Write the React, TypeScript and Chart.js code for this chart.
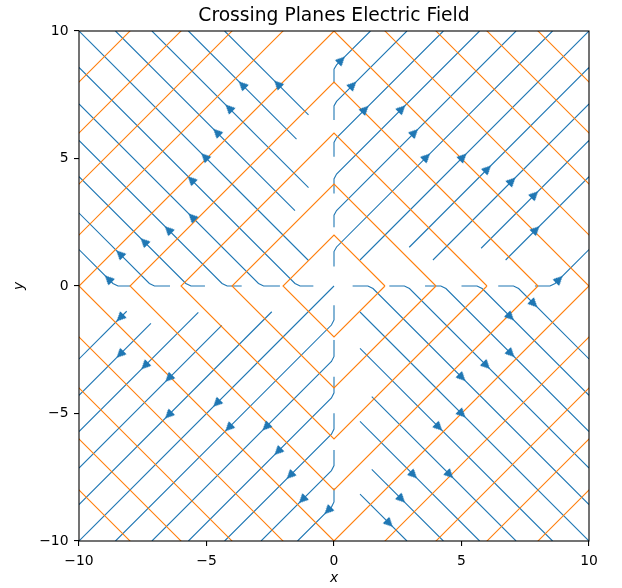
import React, { useEffect, useRef } from 'react';
import { Chart, registerables } from 'chart.js';

Chart.register(...registerables);

type P = [number, number];

const BLUE = '#1f77b4';
const ORANGE = '#ff7f0e';

// equipotential contour levels of the crossing planes (|x| + |y| = level)
const contourLevels = [2, 4, 6, 8, 10, 12, 14, 16, 18];

const tickValues = [-10, -5, 0, 5, 10];

// streamlines, quadrant I (up-right)
const streamQ1: P[][] = [
  [[0, 7.95], [0, 8.5], [0.1, 8.67], [1.43, 10]],
  [[0, 6.51], [0, 7.06], [0.1, 7.24], [2.86, 10]],
  [[0, 5.07], [0, 5.63], [0.1, 5.81], [4.29, 10]],
  [[0, 3.63], [0, 4.2], [0.1, 4.39], [5.71, 10]],
  [[0, 2.3], [0, 2.78], [0.1, 2.96], [7.14, 10]],
  [[0, 0.76], [0, 1.35], [0.1, 1.53], [8.57, 10]],
  [[1.02, 1.02], [10, 10]],
  [[2.95, 1.52], [10, 8.57]],
  [[3.88, 1.02], [10, 7.14]],
  [[5.77, 1.48], [10, 5.71]],
  [[6.73, 1.02], [10, 4.29]],
  [[7.88, 0], [8.47, 0], [8.67, 0.1], [10, 1.43]],
];

// streamlines, quadrant II (up-left)
const streamQ2: P[][] = [
  [[-1.0, 6.71], [-4.29, 10]],
  [[-1.47, 5.76], [-5.71, 10]],
  [[-1.0, 3.86], [-7.14, 10]],
  [[-1.53, 2.96], [-8.57, 10]],
  [[-1.0, 1.0], [-10, 10]],
  [[-0.81, 0], [-1.33, 0], [-1.53, 0.1], [-10, 8.57]],
  [[-2.12, 0], [-2.76, 0], [-2.96, 0.1], [-10, 7.14]],
  [[-3.62, 0], [-4.19, 0], [-4.39, 0.1], [-10, 5.71]],
  [[-5.06, 0], [-5.61, 0], [-5.81, 0.1], [-10, 4.29]],
  [[-6.43, 0], [-7.04, 0], [-7.24, 0.1], [-10, 2.86]],
  [[-8.0, 0], [-8.47, 0], [-8.67, 0.1], [-10, 1.43]],
];

// streamlines, quadrant III (down-left)
const streamQ3: P[][] = [
  [[0, -0.75], [0, -1.33], [-0.1, -1.53], [-8.57, -10]],
  [[0, -2.12], [0, -2.76], [-0.1, -2.96], [-7.14, -10]],
  [[0, -3.56], [0, -4.19], [-0.1, -4.39], [-5.71, -10]],
  [[0, -4.99], [0, -5.61], [-0.1, -5.81], [-4.29, -10]],
  [[0, -6.43], [0, -7.04], [-0.1, -7.24], [-2.86, -10]],
  [[0, -7.93], [0, -8.47], [-0.1, -8.67], [-1.43, -10]],
  [[0, 0], [-10, -10]],
  [[-2.44, -1.01], [-10, -8.57]],
  [[-4.4, -1.54], [-10, -7.14]],
  [[-5.32, -1.03], [-10, -5.71]],
  [[-7.18, -1.47], [-10, -4.29]],
  [[-8.13, -0.99], [-10, -2.86]],
];

// streamlines, quadrant IV (down-right)
const streamQ4: P[][] = [
  [[0.73, 0], [1.33, 0], [1.53, -0.1], [10, -8.57]],
  [[2.17, 0], [2.76, 0], [2.96, -0.1], [10, -7.14]],
  [[3.57, 0], [4.19, 0], [4.39, -0.1], [10, -5.71]],
  [[5.0, 0], [5.61, 0], [5.81, -0.1], [10, -4.29]],
  [[6.44, 0], [7.04, 0], [7.24, -0.1], [10, -2.86]],
  [[1.02, -1.02], [10, -10]],
  [[1.02, -2.45], [8.57, -10]],
  [[1.48, -4.34], [7.14, -10]],
  [[1.02, -5.31], [5.71, -10]],
  [[1.48, -7.19], [4.29, -10]],
  [[1.02, -8.16], [2.86, -10]],
];

// arrow heads
const arrowsQ1: P[] = [
  [0.27, 8.84], [0.72, 7.86], [1.2, 6.91], [2.64, 6.93], [3.14, 6.0], [3.61, 5.04],
  [5.04, 5.04], [6.0, 4.57], [6.96, 4.1], [7.85, 3.56], [7.9, 2.19], [8.81, 0.24],
];
const arrowsQ2: P[] = [
  [-2.19, 7.9], [-3.58, 7.87], [-4.1, 6.96], [-4.58, 6.01], [-5.05, 5.05], [-5.58, 4.15],
  [-5.55, 2.69], [-6.48, 2.19], [-7.43, 1.72], [-8.38, 1.24], [-8.83, 0.26],
];
const arrowsQ3: P[] = [
  [-8.37, -1.23], [-8.37, -2.66], [-7.4, -3.11], [-6.46, -3.6], [-6.47, -5.04], [-4.58, -4.58],
  [-4.11, -5.54], [-2.65, -5.51], [-2.18, -6.47], [-1.7, -7.41], [-1.22, -8.36], [-0.22, -8.79],
];
const arrowsQ4: P[] = [
  [7.82, -0.68], [6.9, -1.19], [6.92, -2.63], [5.96, -3.1], [5.0, -3.57], [5.0, -5.0],
  [4.09, -5.52], [4.52, -7.38], [3.1, -7.39], [2.63, -8.34], [2.15, -9.29],
];

const toXY = (pts: P[]) => pts.map(([x, y]) => ({ x, y }));

function makeArrowHead(): HTMLCanvasElement {
  const c = document.createElement('canvas');
  c.width = 12;
  c.height = 12;
  const g = c.getContext('2d')!;
  g.fillStyle = BLUE;
  g.strokeStyle = BLUE;
  g.lineWidth = 1;
  g.beginPath();
  g.moveTo(6, 1.5);
  g.lineTo(10, 9.5);
  g.lineTo(2, 9.5);
  g.closePath();
  g.fill();
  g.stroke();
  return c;
}

const framePlugin = {
  id: 'frame',
  afterDatasetsDraw(chart: any) {
    const { ctx, chartArea } = chart;
    const { left, top, right, bottom } = chartArea;
    ctx.save();
    ctx.strokeStyle = '#000';
    ctx.lineWidth = 1.1;
    ctx.strokeRect(left, top, right - left, bottom - top);
    ctx.restore();
  },
};

export default function App() {
  const ref = useRef<HTMLCanvasElement | null>(null);

  useEffect(() => {
    if (!ref.current) return;
    const head = makeArrowHead();
    const lineDs = (pts: P[], color: string, order: number) => ({
      data: toXY(pts),
      showLine: true,
      borderColor: color,
      backgroundColor: color,
      borderWidth: 1.1,
      pointRadius: 0,
      pointHoverRadius: 0,
      tension: 0,
      order,
    });
    const arrowDs = (pts: P[], rot: number) => ({
      data: toXY(pts),
      showLine: false,
      pointStyle: head,
      pointRotation: rot,
      pointRadius: 6,
      pointHoverRadius: 6,
      borderColor: BLUE,
      backgroundColor: BLUE,
      order: -1,
    });
    const datasets: any[] = [
      ...contourLevels.map((c) => lineDs([[c, 0], [0, c], [-c, 0], [0, -c], [c, 0]], ORANGE, 0)),
      ...[...streamQ1, ...streamQ2, ...streamQ3, ...streamQ4].map((l) => lineDs(l, BLUE, 1)),
      arrowDs(arrowsQ1, 45),
      arrowDs(arrowsQ2, -45),
      arrowDs(arrowsQ3, -135),
      arrowDs(arrowsQ4, 135),
    ];
    const fmt = (v: number) => (v < 0 ? '\u2212' + Math.abs(v) : String(v));
    const tickFont = { family: 'DejaVu Sans', size: 13.9 };
    const chart = new Chart(ref.current, {
      type: 'scatter',
      data: { datasets },
      plugins: [framePlugin],
      options: {
        animation: false,
        responsive: false,
        devicePixelRatio: 1,
        events: [],
        layout: { padding: { left: 0, right: 33, top: 0, bottom: 0 } },
        plugins: {
          legend: { display: false },
          tooltip: { enabled: false },
          title: {
            display: true,
            text: 'Crossing Planes Electric Field',
            fullSize: false,
            color: '#000',
            font: { family: 'DejaVu Sans', size: 18.7, weight: 'normal', lineHeight: '22px' },
            padding: { top: 5, bottom: 4 },
          },
        },
        scales: {
          x: {
            type: 'linear',
            position: 'bottom',
            min: -10,
            max: 10,
            afterFit: (s: any) => { s.height = 47; },
            afterBuildTicks: (s: any) => { s.ticks = tickValues.map((v) => ({ value: v })); },
            ticks: { color: '#000', font: tickFont, padding: 7, maxRotation: 0, callback: (v: any) => fmt(Number(v)) },
            grid: { drawOnChartArea: false, drawTicks: true, tickLength: 5, color: '#000', lineWidth: 1.1 },
            border: { display: false },
            title: { display: true, text: 'x', color: '#000', font: { family: 'DejaVu Sans', size: 13.9, style: 'italic' }, padding: { top: 0, bottom: 1 } },
          },
          y: {
            type: 'linear',
            position: 'left',
            min: -10,
            max: 10,
            afterFit: (s: any) => { s.width = 79; },
            afterBuildTicks: (s: any) => { s.ticks = tickValues.map((v) => ({ value: v })); },
            ticks: { color: '#000', font: tickFont, padding: 5.5, callback: (v: any) => fmt(Number(v)) },
            grid: { drawOnChartArea: false, drawTicks: true, tickLength: 5, color: '#000', lineWidth: 1.1 },
            border: { display: false },
            title: { display: true, text: 'y', color: '#000', font: { family: 'DejaVu Sans', size: 13.9, style: 'italic' }, padding: { top: 11, bottom: 0 } },
          },
        },
      },
    } as any);
    return () => chart.destroy();
  }, []);

  return (
    <div style={{ position: 'fixed', left: 0, top: 0, width: 622, height: 588, background: '#fff' }}>
      <canvas ref={ref} width={622} height={588} style={{ width: 622, height: 588, display: 'block' }} />
    </div>
  );
}
